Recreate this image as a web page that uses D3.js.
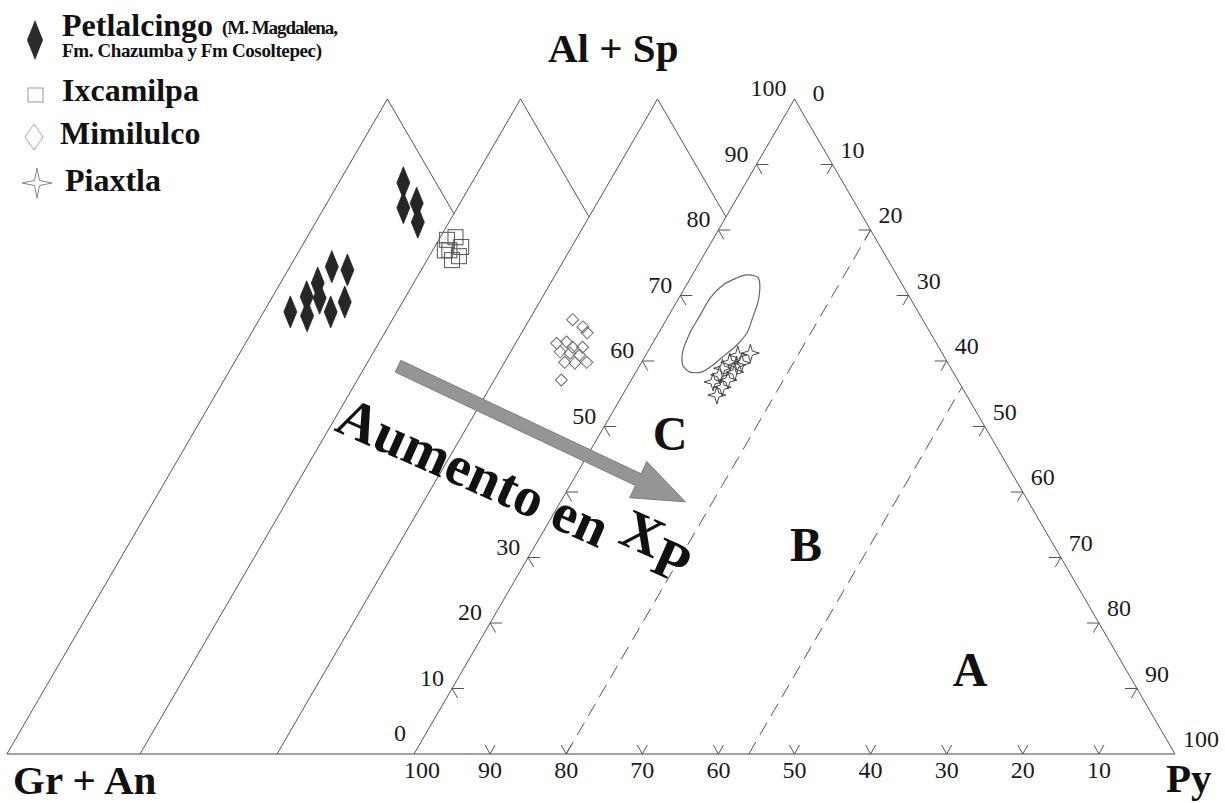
<!DOCTYPE html>
<html><head><meta charset="utf-8">
<script src="https://cdn.jsdelivr.net/npm/d3@7"></script>
<style>body{margin:0;background:#fff}svg{display:block}</style>
</head><body>
<svg id="chart" width="1225" height="803"></svg>
<script>
// ---- data: ternary coordinates [Al+Sp, Py] (Gr+An = 100 - Al+Sp - Py) ----
const petlalcingo = [[67.5,-50.0],[69.8,-49.0],[66.9,-47.5],[71.9,-48.6],[69.6,-47.2],[74.4,-48.0],[67.5,-44.7],[73.9,-45.7],[69.0,-43.6],[87.2,-45.0],[83.4,-43.1],[84.1,-41.7],[81.2,-40.1]];
const ixcamilpa = [[78.5,-34.9],[78.9,-34.0],[76.9,-33.8],[77.4,-32.5],[75.4,-32.7],[76.0,-32.1],[76.9,-34.4]];
const mimilulco = [[66.3,-12.3],[65.2,-10.4],[64.3,-9.4],[62.7,-12.6],[62.9,-11.4],[62.1,-10.2],[62.1,-8.9],[61.4,-11.5],[61.2,-10.1],[60.9,-8.7],[59.8,-10.1],[59.8,-7.2],[59.7,-8.7],[57.1,-9.2]];
const piaxtla = [[61.2,13.6],[60.9,12.1],[59.7,13.2],[59.8,11.6],[58.9,11.1],[58.3,13.0],[57.9,11.2],[57.1,12.7],[56.8,10.9],[56.0,12.5],[54.8,12.4],[59.4,12.7]];
const fieldOutline = [[73.1,7.8],[72.7,8.9],[71.1,9.9],[69.0,10.7],[66.6,11.2],[64.4,11.6],[62.4,11.2],[60.9,10.4],[59.4,9.6],[58.3,8.6],[58.3,7.1],[59.4,5.6],[61.4,4.6],[64.4,4.1],[67.0,4.1],[69.6,4.1],[71.6,4.8],[72.7,6.1],[73.1,6.9]];
const outerPy = [-53.5, -36, -18];       // parallel triangles to the left
const dashedPy = [20, 44];               // field boundaries A/B/C
const tickValues = [10,20,30,40,50,60,70,80,90];
const leftLabels = [0,10,20,30,50,60,70,80,90,100];   // Al+Sp
const rightLabels = [0,10,20,30,40,50,60,70,80,90,100]; // Py
const bottomLabels = [100,90,80,70,60,50,40,30,20,10];  // Gr+An
const arrowStart = [59.2,-31.7], arrowEnd = [38.5,16.4];
const legendItems = ["Petlalcingo","Ixcamilpa","Mimilulco","Piaxtla"];

// ---- scales ----
const xScale = d3.scaleLinear().domain([0,100]).range([414,1175]);
const yScale = d3.scaleLinear().domain([0,100]).range([754,99]);
const P = (a, p) => [xScale(p + a/2), yScale(a)];

const svg = d3.select("#chart");
const serif = "'Liberation Serif','Times New Roman',serif";
const lineCol = "#555";

// main triangle
const gLines = svg.append("g").attr("fill","none").attr("stroke",lineCol).attr("stroke-width",1);
gLines.append("path").attr("d", d3.line()([P(0,outerPy[0]), P(0,100)])).attr("stroke","#444");
gLines.append("path").attr("d", d3.line()([P(0,0), P(100,0), P(0,100)]));
// outer parallel triangles
outerPy.forEach((p,i) => {
  const next = i < outerPy.length-1 ? outerPy[i+1] : 0;
  gLines.append("path").attr("d", d3.line()([P(0,p), P(100,p), P(100+p-next, next)]));
});
// dashed field boundaries
dashedPy.forEach(p => {
  gLines.append("path").attr("d", d3.line()([P(0,p), P(100-p,p)]))
    .attr("stroke-dasharray","14,8");
});

// ticks
const gT = svg.append("g").attr("fill","none").attr("stroke","#555").attr("stroke-width",1);
tickValues.forEach(v => {
  let [x,y] = P(v,0);
  gT.append("path").attr("d",`M${x+12},${y}L${x},${y}L${x+5.5},${y+9.5}`);
  [x,y] = P(100-v,v);
  gT.append("path").attr("d",`M${x-12},${y}L${x},${y}L${x-5.5},${y+9.5}`);
  [x,y] = P(0,v);
  gT.append("path").attr("d",`M${x-5},${y-9}L${x},${y}L${x+5},${y-9}`);
});

// tick labels
const gL = svg.append("g").attr("font-family",serif).attr("font-size",24).attr("fill","#1a1a1a");
leftLabels.forEach(v => {
  const [x,y] = P(v,0);
  gL.append("text").attr("x",x-8).attr("y",y-11 - (v===0?10:0)).attr("dy","0.35em")
    .attr("text-anchor","end").text(v);
});
rightLabels.forEach(v => {
  const [x,y] = P(100-v,v);
  gL.append("text").attr("x",x+8 + (v===0?10:0)).attr("y",y-15 + (v===0?9:0)).attr("dy","0.35em")
    .attr("text-anchor","start").text(v);
});
bottomLabels.forEach(v => {
  const [x,y] = P(0,100-v);
  gL.append("text").attr("x",x + (v===100?8:0)).attr("y",y+16).attr("dy","0.35em")
    .attr("text-anchor","middle").text(v);
});

// field outline
svg.append("path").attr("d", d3.line().curve(d3.curveCardinalClosed.tension(0.3))(fieldOutline.map(d=>P(d[0],d[1]))))
  .attr("fill","none").attr("stroke","#666").attr("stroke-width",1.2);

// symbols
const diamond = (w,h) => `M0,${-h/2}L${w/2},0L0,${h/2}L${-w/2},0Z`;
const star = (r,k) => `M0,${-r}L${k},${-k}L${r},0L${k},${k}L0,${r}L${-k},${k}L${-r},0L${-k},${-k}Z`;

svg.append("g").selectAll("path").data(petlalcingo).join("path")
  .attr("transform", d => `translate(${P(d[0],d[1])})`)
  .attr("d", diamond(13,32)).attr("fill","#262626").attr("stroke","#222").attr("stroke-width",0.8);
svg.append("g").selectAll("rect").data(ixcamilpa).join("rect")
  .attr("x", d => P(d[0],d[1])[0]-7.5).attr("y", d => P(d[0],d[1])[1]-7.5)
  .attr("width",15).attr("height",15).attr("fill","none").attr("stroke","#555").attr("stroke-width",1);
svg.append("g").selectAll("path").data(mimilulco).join("path")
  .attr("transform", d => `translate(${P(d[0],d[1])})`)
  .attr("d", diamond(12,12)).attr("fill","none").attr("stroke","#777").attr("stroke-width",1.1);
svg.append("g").selectAll("path").data(piaxtla).join("path")
  .attr("transform", d => `translate(${P(d[0],d[1])})`)
  .attr("d", star(9,2)).attr("fill","none").attr("stroke","#444").attr("stroke-width",1);

// arrow
(function(){
  const s = P(arrowStart[0],arrowStart[1]), t = P(arrowEnd[0],arrowEnd[1]);
  const dx=t[0]-s[0], dy=t[1]-s[1], L=Math.hypot(dx,dy);
  const d=[dx/L,dy/L], n=[-d[1],d[0]];
  const hw=6.5, hl=52, hh=20;
  const b=[t[0]-d[0]*hl, t[1]-d[1]*hl];
  const pt=(o,k)=>[o[0]+n[0]*k, o[1]+n[1]*k];
  svg.append("path").attr("d", d3.line()([pt(s,hw),pt(b,hw),pt(b,hh),t,pt(b,-hh),pt(b,-hw),pt(s,-hw)])+"Z")
    .attr("fill","#959595").attr("stroke","#7d7d7d").attr("stroke-width",1);
})();

// rotated annotation
const ann = svg.append("text").attr("font-family",serif).attr("font-weight","bold").attr("font-size",56)
  .attr("fill","#111").attr("transform","translate(333,430) rotate(24)");
ann.append("tspan").text("Aumento en ");
ann.append("tspan").attr("dy",-13).text("X");
ann.append("tspan").attr("dy",13).text("P");

// field letters
const gF = svg.append("g").attr("font-family",serif).attr("font-weight","bold").attr("font-size",48).attr("fill","#111").attr("text-anchor","middle");
[["C",670,450],["B",806,561],["A",970,686]].forEach(([t,x,y]) => gF.append("text").attr("x",x).attr("y",y).text(t));

// vertex labels
const gV = svg.append("g").attr("font-family",serif).attr("font-weight","bold").attr("font-size",41).attr("fill","#111");
gV.append("text").attr("x",548).attr("y",62).text("Al + Sp");
gV.append("text").attr("x",13).attr("y",794).text("Gr + An");
gV.append("text").attr("x",1166).attr("y",792).text("Py");

// legend
const gLeg = svg.append("g").attr("font-family",serif).attr("font-weight","bold").attr("fill","#111");
gLeg.append("path").attr("transform","translate(35,40)").attr("d",diamond(16,40)).attr("fill","#2b2b2b");
gLeg.append("rect").attr("x",28).attr("y",88).attr("width",15).attr("height",14).attr("fill","none").attr("stroke","#999");
gLeg.append("path").attr("transform","translate(34,137)").attr("d",diamond(18,26)).attr("fill","none").attr("stroke","#aaa");
gLeg.append("path").attr("transform","translate(37,183)").attr("d",star(15,2.5)).attr("fill","none").attr("stroke","#888");
gLeg.append("text").attr("x",62).attr("y",36).attr("font-size",32).text(legendItems[0]);
gLeg.append("text").attr("x",222).attr("y",34).attr("font-size",19).attr("textLength",116).attr("lengthAdjust","spacing").text("(M. Magdalena,");
gLeg.append("text").attr("x",62).attr("y",57).attr("font-size",19).attr("textLength",260).attr("lengthAdjust","spacing").text("Fm. Chazumba y Fm Cosoltepec)");
gLeg.append("text").attr("x",62).attr("y",101).attr("font-size",32).text(legendItems[1]);
gLeg.append("text").attr("x",60).attr("y",144).attr("font-size",32).text(legendItems[2]);
gLeg.append("text").attr("x",65).attr("y",191).attr("font-size",32).text(legendItems[3]);
</script>
</body></html>
